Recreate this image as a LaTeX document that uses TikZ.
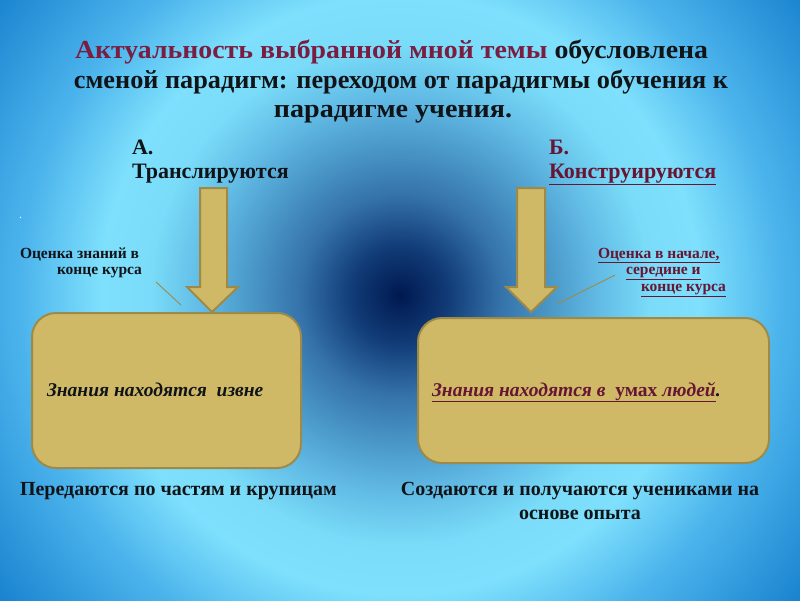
\documentclass[tikz,border=0pt]{standalone}
\usepackage{fontspec}
\setmainfont{Liberation Serif}
\newcommand\myul[1]{\underline{#1}}
\definecolor{bg0}{HTML}{001850}
\definecolor{bg1}{HTML}{123D78}
\definecolor{bg2}{HTML}{3572AA}
\definecolor{bg3}{HTML}{4A98C8}
\definecolor{bg4}{HTML}{62BCE6}
\definecolor{bg5}{HTML}{7ADCF8}
\definecolor{bg6}{HTML}{7EE0FC}
\definecolor{bg7}{HTML}{4CB4EC}
\definecolor{bg8}{HTML}{1A84D0}
\definecolor{tan}{HTML}{CFB967}
\definecolor{olive}{HTML}{9E8A48}
\definecolor{plum}{HTML}{7A1D42}
\definecolor{darkplum}{HTML}{661533}
\definecolor{ink}{HTML}{101418}
\pgfdeclareradialshading{bgshade}{\pgfpoint{0bp}{0bp}}{color(0bp)=(bg0); color(1.25bp)=(bg1); color(2.5bp)=(bg2); color(3.75bp)=(bg3); color(5bp)=(bg4); color(6.25bp)=(bg5); color(7.5bp)=(bg6); color(9.5bp)=(bg7); color(12.5bp)=(bg8); color(50bp)=(bg8)}
\tikzset{
  txt/.style={inner sep=0pt, outer sep=0pt},
  bigbox/.style={draw=olive, line width=2pt, fill=tan, rounded corners=24pt},
  arrowshape/.style={draw=olive, line width=2pt, fill=tan, line join=miter},
  pointer/.style={draw=olive, line width=0.9pt},
  title/.style={txt, font=\fontsize{26}{30}\selectfont\bfseries, text=ink},
  head/.style={txt, font=\fontsize{22}{26}\selectfont\bfseries, text=ink, anchor=base west},
  lbl/.style={txt, font=\fontsize{15.5}{18}\selectfont\bfseries, anchor=base west},
  boxtext/.style={txt, font=\fontsize{19.5}{22}\selectfont\bfseries\itshape, anchor=base west},
  bottom/.style={txt, font=\fontsize{20}{24}\selectfont\bfseries, text=ink}
}
\begin{document}
\begin{tikzpicture}[x=1pt,y=-1pt]
\useasboundingbox (0,0) rectangle (800,600);
\begin{scope}
\clip (0,0) rectangle (800,600);
\shade[shading=bgshade] (400,295) circle (1000);
\end{scope}
% title
\node[title, anchor=base west] (t1) at (75,58) {\scalebox{1.07}[1]{\textcolor{plum}{Актуальность выбранной мной темы} обусловлена}};
\node[title, anchor=base] (t2) at (401,88) {\scalebox{1.01}[1]{сменой парадигм: переходом от парадигмы обучения к}};
\node[title, anchor=base] (t3) at (393,117) {\scalebox{1.08}[1]{парадигме учения.}};
% headers
\node[head] (ha) at (132,154) {А.};
\node[head] (hA) at (132,178) {Транслируются};
\node[head, text=darkplum] (hb) at (549,154) {Б.};
\node[head, text=darkplum] (hB) at (549,178) {\myul{Конструируются}};
\node[txt, font=\fontsize{12}{14}\selectfont, text=white, anchor=base west] (dot) at (19,218) {.};
% arrows
\draw[arrowshape] (200,188) -- (227,188) -- (227,287) -- (238,287) -- (212,312) -- (187,287) -- (200,287) -- cycle;
\draw[arrowshape] (517,188) -- (545,188) -- (545,287) -- (557,287) -- (531,312) -- (506,287) -- (517,287) -- cycle;
% boxes
\draw[bigbox] (32,313) rectangle (301,468);
\draw[bigbox] (418,318) rectangle (769,463);
\node[boxtext, text=ink] (lt) at (47,396) {Знания находятся \ извне};
\node[boxtext, text=darkplum] (rt) at (432,396) {\myul{Знания находятся в \ {\upshape умах} людей}\textcolor{ink}{.}};
% labels
\node[lbl, text=ink] (l1) at (20,258) {Оценка знаний в};
\node[lbl, text=ink] (l2) at (57,274) {конце курса};
\node[lbl, text=darkplum] (r1) at (598,258) {\myul{Оценка в начале,}};
\node[lbl, text=darkplum] (r2) at (626,274) {\myul{середине и}};
\node[lbl, text=darkplum] (r3) at (641,291) {\myul{конце курса}};
\coordinate (ls) at (156,282);
\coordinate (le) at (181,305);
\coordinate (rs) at (615,275);
\coordinate (re) at (557,304);
\draw[pointer] (ls) -- (le);
\draw[pointer] (rs) -- (re);
% bottom texts
\node[bottom, anchor=base west] (b1) at (20,495) {Передаются по частям и крупицам};
\node[bottom, anchor=base] (b2) at (580,495) {Создаются и получаются учениками на};
\node[bottom, anchor=base] (b3) at (580,519) {основе опыта};
\end{tikzpicture}
\end{document}
